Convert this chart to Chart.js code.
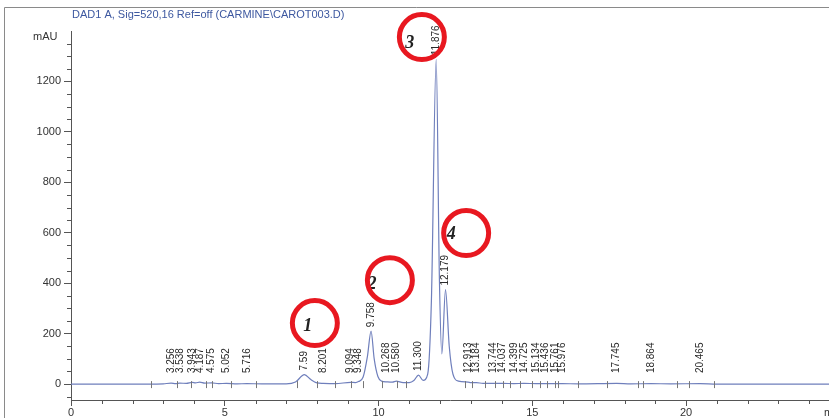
<!DOCTYPE html>
<html>
<head>
<meta charset="utf-8">
<script src="https://cdn.jsdelivr.net/npm/chart.js@4.4.0/dist/chart.umd.min.js"></script>
<style>
    html, body { margin: 0; padding: 0; background: #fff; }
    #wrap { position: relative; width: 829px; height: 418px; }
</style>
</head>
<body>
<div id="wrap"><canvas id="chromChart"></canvas></div>
<script>
// Trace (min, mAU)
const traceTime = [0, 2.5, 3.0, 3.256, 3.4, 3.538, 3.75, 3.943, 4.05, 4.187, 4.35, 4.575, 4.8, 5.052, 5.4, 5.716, 6.2,
    7.0, 7.3, 7.59, 7.8, 8.0, 8.201, 8.6, 9.094, 9.25, 9.348, 9.5, 9.64, 9.758, 9.86, 9.98, 10.1, 10.268, 10.45, 10.58,
    10.8, 11.0, 11.15, 11.3, 11.45, 11.6, 11.72, 11.876, 11.98, 12.06, 12.179, 12.3, 12.42, 12.6, 12.913, 13.0, 13.184,
    13.4, 13.744, 14.037, 14.399, 14.725, 15.134, 15.436, 15.761, 15.976, 16.5, 17.745, 18.2, 18.864, 19.5, 20.465, 21, 24.65];
const traceSignal = [0, 0, 1, 4, 2, 4, 3, 7, 5, 8, 4, 5, 2, 3, 1, 2, 1,
    1, 8, 38, 18, 5, 3, 2, 7, 6, 10, 28, 110, 210, 100, 30, 12, 9, 8, 12,
    6, 6, 14, 36, 15, 40, 330, 1288, 420, 120, 375, 150, 40, 12, 8, 6, 6,
    3, 3, 3, 2, 3, 2, 2, 2, 2, 1, 3, 1, 2, 1, 2, 0, 0];

// Integrated peaks
const peakTimes = [3.256, 3.538, 3.943, 4.187, 4.575, 5.052, 5.716, 7.59, 8.201, 9.094, 9.348, 9.758, 10.268, 10.58,
    11.3, 11.876, 12.179, 12.913, 13.184, 13.744, 14.037, 14.399, 14.725, 15.134, 15.436, 15.761, 15.976, 17.745, 18.864, 20.465];
const peakLabels = ['3.256', '3.538', '3.943', '4.187', '4.575', '5.052', '5.716', '7.59', '8.201', '9.094', '9.348', '9.758', '10.268', '10.580',
    '11.300', '11.876', '12.179', '12.913', '13.184', '13.744', '14.037', '14.399', '14.725', '15.134', '15.436', '15.761', '15.976', '17.745', '18.864', '20.465'];
const peakHeights = [4, 4, 7, 8, 5, 3, 2, 38, 3, 7, 10, 210, 9, 12,
    36, 1288, 375, 8, 6, 3, 3, 2, 3, 2, 2, 2, 2, 3, 2, 2];

// Baseline start/end markers
const markTimes = [2.6, 3.45, 3.9, 4.4, 4.6, 5.2, 6.0, 7.35, 8.0, 8.6, 9.1, 9.5, 10.1, 10.6, 10.9, 12.8, 13.04, 13.46,
    13.79, 14.05, 14.28, 14.6, 14.99, 15.25, 15.48, 15.74, 15.84, 16.49, 17.43, 18.45, 18.6, 19.7, 20.1, 20.9];

const xTicks = [0, 5, 10, 15, 20];
const yTicks = [0, 200, 400, 600, 800, 1000, 1200];

// Hand-drawn red circles (min, mAU)
const circleTimes = [7.93, 10.37, 11.41, 12.85];
const circleValues = [242, 412, 1376, 599];
const circleNumbers = ['1', '2', '3', '4'];

const overlayPlugin = {
    id: 'overlay',
    afterDraw(chart) {
        const ctx = chart.ctx;
        const xs = chart.scales.x, ys = chart.scales.y;
        const area = chart.chartArea;
        ctx.save();

        // page frame
        ctx.strokeStyle = '#8a8a8a';
        ctx.lineWidth = 1;
        ctx.beginPath();
        ctx.moveTo(4.5, 418); ctx.lineTo(4.5, 7.5); ctx.lineTo(829, 7.5);
        ctx.stroke();

        // title + units
        ctx.font = '11px "Liberation Sans", Arial, sans-serif';
        ctx.fillStyle = '#3d58a0';
        ctx.textAlign = 'left';
        ctx.textBaseline = 'middle';
        ctx.fillText('DAD1 A, Sig=520,16 Ref=off (CARMINE\\CAROT003.D)', 72, 15);
        ctx.fillStyle = '#333';
        ctx.fillText('mAU', 33, 37);
        ctx.fillText('min', 824, 413);

        // minor ticks
        ctx.strokeStyle = '#555';
        ctx.beginPath();
        for (let v = -50; v <= 1350; v += 50) {
            if (v % 200 === 0) continue;
            const py = Math.round(ys.getPixelForValue(v)) + 0.5;
            ctx.moveTo(area.left - 4, py); ctx.lineTo(area.left, py);
        }
        for (let t = 1; t <= 24; t++) {
            if (t % 5 === 0) continue;
            const px = Math.round(xs.getPixelForValue(t)) + 0.5;
            ctx.moveTo(px, area.bottom); ctx.lineTo(px, area.bottom + 4);
        }
        ctx.stroke();

        // baseline markers
        const base = ys.getPixelForValue(0);
        ctx.strokeStyle = '#777';
        ctx.beginPath();
        markTimes.forEach(t => {
            const px = Math.round(xs.getPixelForValue(t)) + 0.5;
            ctx.moveTo(px, base - 3); ctx.lineTo(px, base + 4);
        });
        ctx.stroke();

        // retention time labels
        ctx.font = '10px "Liberation Sans", Arial, sans-serif';
        ctx.fillStyle = '#2a2a2a';
        peakTimes.forEach((t, i) => {
            const px = xs.getPixelForValue(t);
            const py = Math.min(ys.getPixelForValue(peakHeights[i]) - 4, base - 11);
            ctx.save();
            ctx.translate(px, py);
            ctx.rotate(-Math.PI / 2);
            ctx.textAlign = 'left';
            ctx.textBaseline = 'middle';
            ctx.fillText(peakLabels[i], 0, 0);
            ctx.restore();
        });

        // red circles with peak numbers
        const numOffsets = [[-7, 3], [-18, 4], [-12, 6], [-15, 1]];
        circleTimes.forEach((t, i) => {
            const cx = xs.getPixelForValue(t), cy = ys.getPixelForValue(circleValues[i]);
            ctx.font = 'italic bold 18px "Liberation Serif", serif';
            ctx.fillStyle = '#222';
            ctx.textAlign = 'center';
            ctx.textBaseline = 'middle';
            ctx.fillText(circleNumbers[i], cx + numOffsets[i][0], cy + numOffsets[i][1]);
            ctx.strokeStyle = '#e81820';
            ctx.lineWidth = 5;
            ctx.beginPath();
            ctx.arc(cx, cy, 22.5, 0, Math.PI * 2);
            ctx.stroke();
        });
        ctx.restore();
    }
};

new Chart(document.getElementById('chromChart'), {
    type: 'line',
    data: {
        datasets: [{
            data: traceTime.map((t, i) => ({ x: t, y: traceSignal[i] })),
            borderColor: '#6f7fbc',
            borderWidth: 1.2,
            pointRadius: 0,
            fill: false,
            cubicInterpolationMode: 'monotone'
        }]
    },
    options: {
        responsive: true,
        maintainAspectRatio: false,
        animation: false,
        layout: { padding: { top: 31, left: 0, right: 0, bottom: 0 } },
        plugins: { legend: { display: false }, tooltip: { enabled: false } },
        scales: {
            x: {
                type: 'linear',
                min: 0,
                max: 24.65,
                afterBuildTicks: s => { s.ticks = xTicks.map(v => ({ value: v })); },
                afterFit: s => { s.height = 18; },
                grid: { drawOnChartArea: false, tickLength: 6, color: '#555' },
                border: { color: '#555' },
                ticks: { padding: 0, color: '#333', font: { family: 'Liberation Sans', size: 11 }, callback: v => String(v) }
            },
            y: {
                min: -63,
                max: 1400,
                afterBuildTicks: s => { s.ticks = yTicks.map(v => ({ value: v })); },
                afterFit: s => { s.width = 71; },
                grid: { drawOnChartArea: false, tickLength: 7, color: '#555' },
                border: { color: '#555' },
                ticks: { padding: 3, color: '#333', font: { family: 'Liberation Sans', size: 11 }, callback: v => String(v) }
            }
        }
    },
    plugins: [overlayPlugin]
});
</script>
</body>
</html>
